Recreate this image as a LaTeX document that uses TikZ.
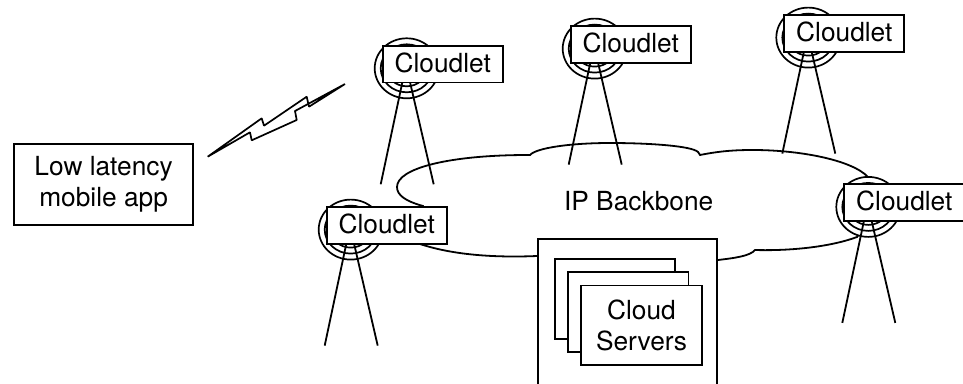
\documentclass[tikz,border=0pt]{standalone}
\usepackage{fontspec}
\setmainfont{TeX Gyre Heros}
\tikzset{
  labelbox/.style={draw,fill=white,line width=1.8pt,inner sep=0pt,align=center,font=\fontsize{26.3}{31}\selectfont},
  cloudletbox/.style={labelbox,minimum width=120pt,minimum height=36.7pt,text depth=3.4pt},
  serverbox/.style={labelbox,minimum width=120.4pt,minimum height=79.6pt},
  ring/.style={draw,fill=white,line width=1.7pt},
  leg/.style={draw,line width=1.8pt}
}
\newcommand{\tower}[3]{%
  \begin{scope}[shift={(#2,#3)}]
    \draw[ring] (24,22.6) ellipse [x radius=32,y radius=30];
    \draw[ring] (24,22.6) ellipse [x radius=26,y radius=24];
    \draw[ring] (24,22.6) ellipse [x radius=20,y radius=18];
    \coordinate (#1-topa) at (20.4,33);
    \coordinate (#1-topb) at (26.5,33);
    \coordinate (#1-a) at (-2,138.6);
    \coordinate (#1-b) at (51,138.6);
    \draw[leg] (#1-topa) -- (#1-a);
    \draw[leg] (#1-topb) -- (#1-b);
    \node[cloudletbox] (#1) at (60,18.35) {Cloudlet};
  \end{scope}}
\begin{document}
\begin{tikzpicture}[x=1pt,y=-1pt,line width=1.8pt]
\useasboundingbox (0,0) rectangle (963,383);
\clip (0,0) rectangle (963,383);
% cloud
\draw[fill=white] (397,187)
  .. controls (397,168) and (450,155) .. (528,155)
  -- (530,155)
  .. controls (536,148) and (570,143) .. (610,143)
  .. controls (650,143) and (692,146) .. (698,152)
  -- (700,155)
  .. controls (720,151) and (735,150) .. (753,150)
  .. controls (800,150) and (852,160) .. (868,177)
  -- (880,205) -- (857,237)
  .. controls (830,247) and (790,251) .. (755,250)
  .. controls (750,256) and (735,258) .. (718,260)
  -- (537,256)
  .. controls (490,258) and (450,254) .. (420,244)
  -- (423,206)
  .. controls (405,201) and (397,195) .. (397,187) -- cycle;
\node[font=\fontsize{26.3}{31}\selectfont,inner sep=0pt] (backbone) at (638.7,201.5) {IP Backbone};
% server rack
\node[draw,fill=white,line width=1.8pt,minimum width=178.7pt,minimum height=160pt,inner sep=0pt] (rack) at (627.35,319) {};
\node[serverbox] (s1) at (615,299) {};
\node[serverbox] (s2) at (628.2,312) {};
\node[serverbox] (s3) at (641.5,325.2) {Cloud\\Servers};
% towers
\tower{c2}{570.7}{26}
\tower{c3}{784.3}{15}
\tower{c4}{844.3}{184.3}
\tower{c1}{382.7}{45.7}
\tower{c5}{326.7}{207}
% app
\node[labelbox,minimum width=179.3pt,minimum height=81pt] (app) at (103.6,184.5) {Low latency\\mobile app};
% lightning
\draw[line width=1.7pt,line join=bevel] (207.7,156.7) -- (261.7,118.3) -- (264,125.7) -- (306.7,96.7) -- (309,106.7) -- (345,84)
  -- (295,111) -- (296.7,120) -- (251.7,140.3) -- (250,132.3) -- cycle;
\end{tikzpicture}
\end{document}
